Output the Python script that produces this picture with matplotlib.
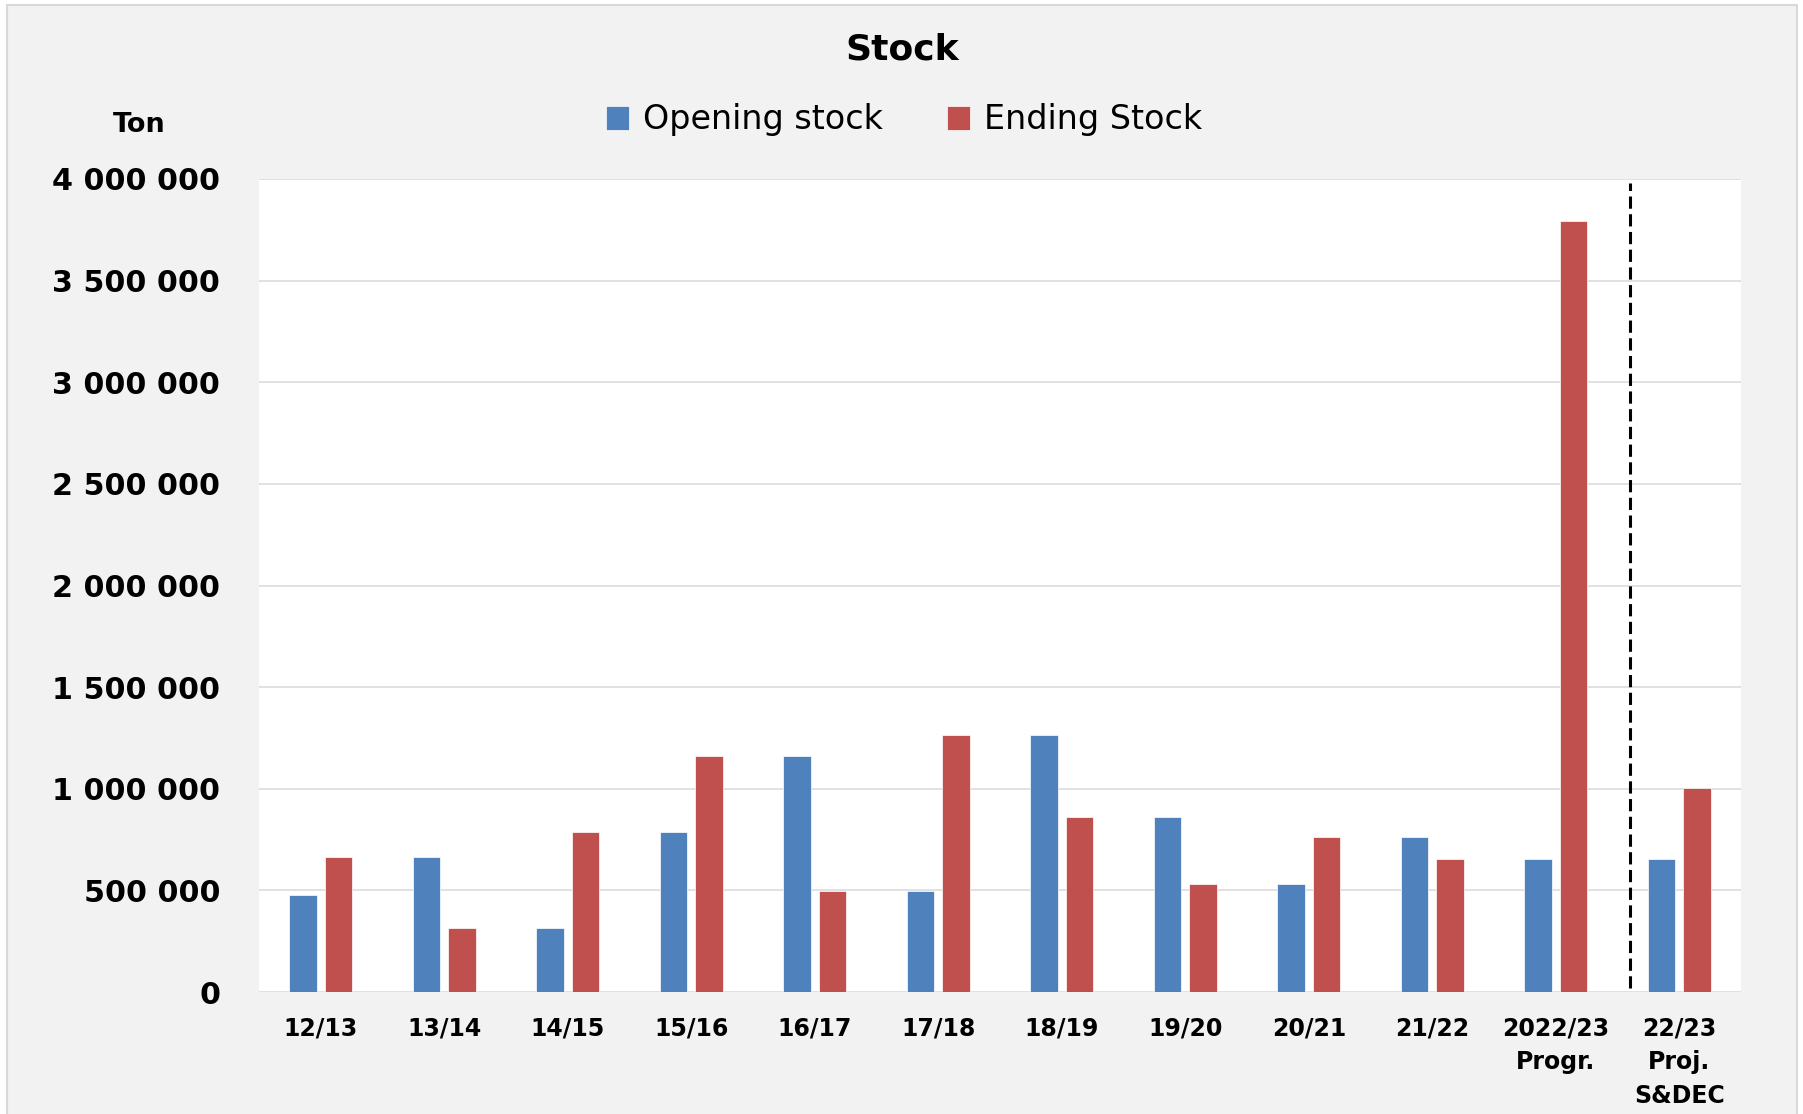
import matplotlib
matplotlib.use("Agg")
import matplotlib.pyplot as plt
from matplotlib.patches import Rectangle
from matplotlib.ticker import FuncFormatter, MultipleLocator
import numpy as np

plt.rcParams['font.family'] = ['DejaVu Sans']

categories = ["12/13", "13/14", "14/15", "15/16", "16/17", "17/18", "18/19",
              "19/20", "20/21", "21/22", "2022/23\nProgr.", "22/23\nProj.\nS&DEC"]
opening_stock = [475000, 663000, 314000, 789000, 1163000, 495000, 1265000,
                 862000, 530000, 763000, 655000, 655000]
ending_stock = [663000, 314000, 789000, 1163000, 495000, 1265000, 862000,
                530000, 763000, 655000, 3795000, 1003000]
series_names = ["Opening stock", "Ending Stock"]
title = "Stock"
unit_label = "Ton"

BLUE = "#4F81BD"
RED = "#C0504D"
BG = "#F2F2F2"
GRID = "#D9D9D9"

W, H = 1803, 1114
fig = plt.figure(figsize=(W / 100, H / 100), dpi=100, facecolor="white")

# chart area background with border
fig.patches.append(Rectangle((7 / W, -0.01), (1797 - 7) / W, 1 - 5 / H + 0.01,
                             transform=fig.transFigure, facecolor=BG,
                             edgecolor=GRID, linewidth=1.5, zorder=-10))

ax = fig.add_axes([259 / W, 1 - 992 / H, (1741 - 259) / W, (992 - 179) / H])
ax.set_facecolor("white")

x = np.arange(len(categories))
bw = 0.225
off = 0.143
b1 = ax.bar(x - off, opening_stock, width=bw, color=BLUE, edgecolor="white",
            linewidth=0.5, label=series_names[0], zorder=3)
b2 = ax.bar(x + off, ending_stock, width=bw, color=RED, edgecolor="white",
            linewidth=0.5, label=series_names[1], zorder=3)

ax.set_xlim(-0.5, len(categories) - 0.5)
ax.set_ylim(0, 4000000)
ax.yaxis.set_major_locator(MultipleLocator(500000))
ax.yaxis.set_major_formatter(FuncFormatter(lambda v, p: f"{int(round(v)):,}".replace(",", " ")))
ax.grid(axis="y", color=GRID, linewidth=1.1, zorder=0)
ax.set_axisbelow(True)
for s in ax.spines.values():
    s.set_visible(False)

ax.set_xticks(x)
ax.set_xticklabels(categories, fontsize=17, fontweight="bold", linespacing=1.5)
ax.tick_params(axis="x", length=0, pad=18)
ax.tick_params(axis="y", length=0, pad=28, labelsize=21.7)
for t in ax.get_yticklabels():
    t.set_fontweight("bold")

# separator between progress and projection
ax.axvline(10.6, ymin=0.005, ymax=0.995, color="black", linewidth=2.2,
           linestyle=(0, (4, 1.8)), zorder=4)

fig.text(902 / W, 1 - 60 / H, title, ha="center", va="baseline",
         fontsize=26, fontweight="bold")
fig.text(139 / W, 1 - 132 / H, unit_label, ha="center", va="baseline",
         fontsize=19.5, fontweight="bold")

leg = fig.legend(handles=[b1, b2], labels=series_names, loc="center",
                 bbox_to_anchor=(904 / W, 1 - 120 / H), ncol=2, frameon=False,
                 fontsize=24, handlelength=0.7, handleheight=0.7,
                 handletextpad=0.42, columnspacing=1.9, borderaxespad=0)

fig.savefig("out.png", dpi=100, facecolor=fig.get_facecolor())
